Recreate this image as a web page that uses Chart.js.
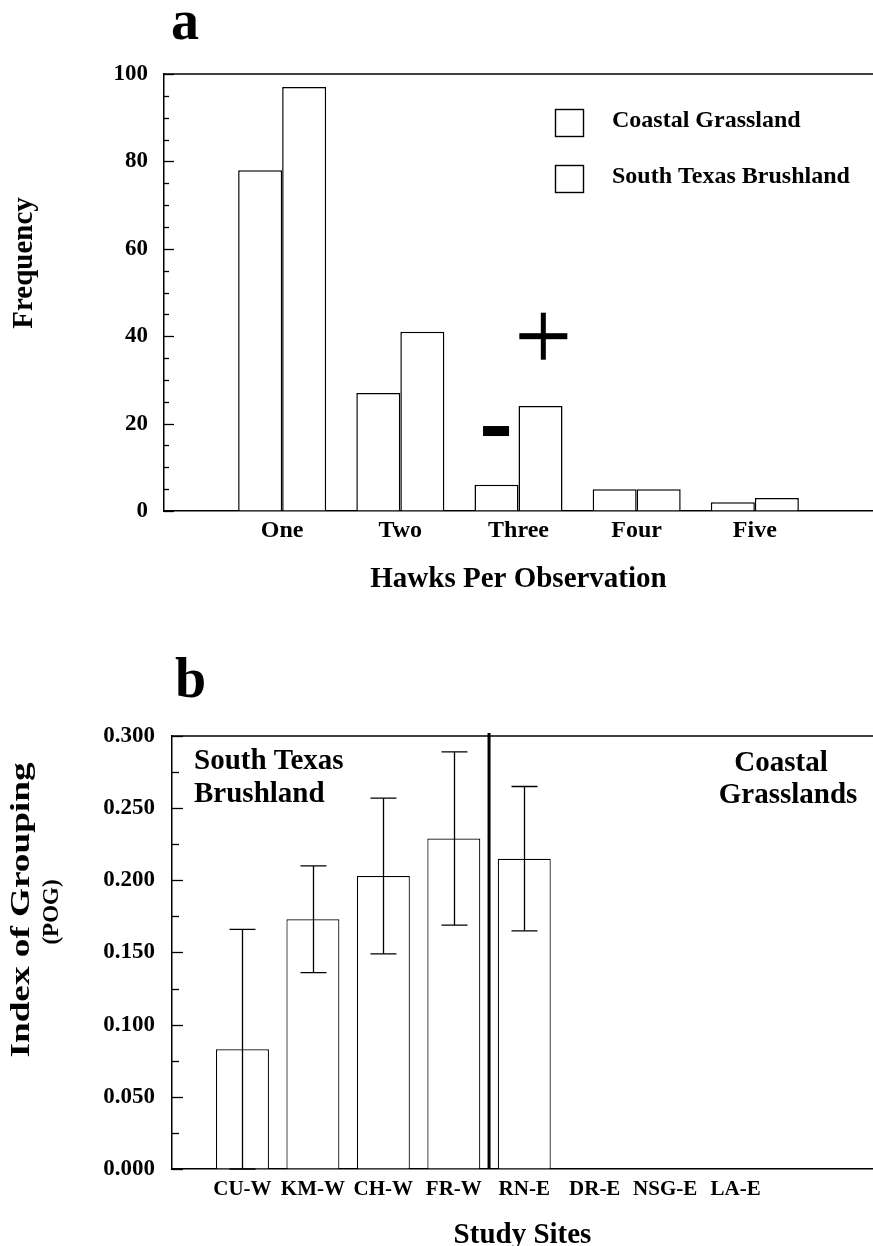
<!DOCTYPE html>
<html><head><meta charset="utf-8">
<script src="https://cdn.jsdelivr.net/npm/chart.js@4.4.0/dist/chart.umd.min.js"></script>
<style>
html,body{margin:0;padding:0;background:#fff;}
#wrap{position:relative;width:873px;height:1246px;overflow:hidden;}
.box{position:absolute;left:0;width:873px;}
</style></head><body>
<div id="wrap">
<div class="box" style="top:0;height:620px"><canvas id="ca"></canvas></div>
<div class="box" style="top:620px;height:626px"><canvas id="cb"></canvas></div>
</div>
<script>
// ---------- Panel a data ----------
const hawkCategories = ['One', 'Two', 'Three', 'Four', 'Five'];
const coastalGrassland = [78, 27, 6, 5, 2];
const southTexasBrushland = [97, 41, 24, 5, 3];
const freqTicks = [0, 20, 40, 60, 80, 100];
const seriesNames = ['Coastal Grassland', 'South Texas Brushland'];
// significance marks (data coordinates)
const contrastMarks = [{sym: '+', x: 3.21, y: 40}, {sym: '-', x: 2.81, y: 18.3}];

// ---------- Panel b data ----------
const studySites = ['CU-W', 'KM-W', 'CH-W', 'FR-W', 'RN-E', 'DR-E', 'NSG-E', 'LA-E'];
const pogValues = [0.083, 0.173, 0.203, 0.229, 0.215, 0, 0, 0];
const pogLow = [0.000, 0.136, 0.149, 0.169, 0.165, null, null, null];
const pogHigh = [0.166, 0.210, 0.257, 0.289, 0.265, null, null, null];
const pogTicks = [0, 0.05, 0.10, 0.15, 0.20, 0.25, 0.30];
const regionDivider = 4.5;
const regionNames = [['South Texas', 'Brushland'], ['Coastal', 'Grasslands']];

const SERIF = "'Liberation Serif','Times New Roman',serif";
Chart.defaults.font.family = SERIF;
Chart.defaults.color = '#000';

function bold(size) { return 'bold ' + size + 'px ' + SERIF; }

function drawMinorTicks(ctx, chart, step, majorEvery, max, majorLen, minorLen) {
  const ys = chart.scales.y, left = chart.chartArea.left;
  ctx.save();
  ctx.strokeStyle = '#000';
  ctx.lineWidth = 1.3;
  const n = Math.round(max / step);
  for (let i = 0; i <= n; i++) {
    const v = i * step;
    const y = Math.round(ys.getPixelForValue(v)) + 0.5;
    const len = (i % majorEvery === 0) ? majorLen : minorLen;
    ctx.beginPath(); ctx.moveTo(left, y); ctx.lineTo(left + len, y); ctx.stroke();
  }
  ctx.restore();
}

function drawTopBorder(ctx, chart) {
  const a = chart.chartArea;
  ctx.save();
  ctx.strokeStyle = '#000'; ctx.lineWidth = 1.5;
  ctx.beginPath(); ctx.moveTo(a.left, a.top); ctx.lineTo(a.right, a.top); ctx.stroke();
  ctx.restore();
}

const panelA = {
  id: 'panelA',
  afterDatasetsDraw(chart) {
    const ctx = chart.ctx, a = chart.chartArea;
    const xs = chart.scales.x, ys = chart.scales.y;
    drawTopBorder(ctx, chart);
    drawMinorTicks(ctx, chart, 5, 4, 100, 10, 5);
    ctx.save();
    ctx.fillStyle = '#000';
    // significance marks
    contrastMarks.forEach(m => {
      const px = xs.getPixelForValue(m.x), py = ys.getPixelForValue(m.y);
      if (m.sym === '+') {
        ctx.fillRect(px - 24, py - 3, 48, 6);
        ctx.fillRect(px - 2.5, py - 23.5, 5, 47);
      } else {
        ctx.fillRect(px - 13, py - 5, 26, 10);
      }
    });
    // legend
    const legendRows = [123, 179];
    chart.data.datasets.forEach((ds, i) => {
      const cy = legendRows[i];
      ctx.fillStyle = '#fff';
      ctx.fillRect(555, cy - 14, 29, 28);
      ctx.strokeStyle = '#000'; ctx.lineWidth = 1.4;
      ctx.strokeRect(555.5, cy - 13.5, 28, 27);
      ctx.fillStyle = '#000';
      ctx.font = bold(24);
      ctx.textAlign = 'left'; ctx.textBaseline = 'alphabetic';
      ctx.fillText(ds.label, 612, cy + 4);
    });
    // panel letter
    ctx.font = bold(56);
    ctx.textAlign = 'left'; ctx.textBaseline = 'alphabetic';
    ctx.fillText('a', a.left + 7, 39);
    // axis titles
    ctx.font = bold(29);
    ctx.textAlign = 'center';
    ctx.fillText('Hawks Per Observation', (a.left + a.right) / 2, 587);
    ctx.save();
    ctx.translate(32, 263);
    ctx.rotate(-Math.PI / 2);
    ctx.fillText('Frequency', 0, 0);
    ctx.restore();
    ctx.restore();
  }
};

const panelB = {
  id: 'panelB',
  afterDatasetsDraw(chart) {
    const ctx = chart.ctx, a = chart.chartArea;
    const xs = chart.scales.x, ys = chart.scales.y;
    drawTopBorder(ctx, chart);
    drawMinorTicks(ctx, chart, 0.025, 2, 0.3, 11, 7);
    ctx.save();
    ctx.strokeStyle = '#000'; ctx.fillStyle = '#000';
    // region divider
    const dx = xs.getPixelForValue(regionDivider);
    ctx.lineWidth = 3;
    ctx.beginPath(); ctx.moveTo(dx, a.top - 3); ctx.lineTo(dx, a.bottom); ctx.stroke();
    // error bars
    ctx.lineWidth = 1.3;
    studySites.forEach((s, i) => {
      if (pogLow[i] === null || pogHigh[i] === null) return;
      const cx = Math.round(xs.getPixelForValue(i + 1)) + 0.5;
      const yl = ys.getPixelForValue(pogLow[i]), yh = ys.getPixelForValue(pogHigh[i]);
      ctx.beginPath();
      ctx.moveTo(cx, yl); ctx.lineTo(cx, yh);
      ctx.moveTo(cx - 13, yh); ctx.lineTo(cx + 13, yh);
      ctx.moveTo(cx - 13, yl); ctx.lineTo(cx + 13, yl);
      ctx.stroke();
    });
    // region names
    ctx.font = bold(29);
    ctx.textBaseline = 'alphabetic';
    ctx.textAlign = 'left';
    ctx.fillText(regionNames[0][0], a.left + 22, 149);
    ctx.fillText(regionNames[0][1], a.left + 22, 182);
    ctx.textAlign = 'center';
    ctx.fillText(regionNames[1][0], 781, 151);
    ctx.fillText(regionNames[1][1], 788, 183);
    // panel letter
    ctx.font = bold(56);
    ctx.textAlign = 'left';
    ctx.fillText('b', a.left + 3, 77);
    // axis titles
    ctx.font = bold(29);
    ctx.textAlign = 'center';
    ctx.fillText('Study Sites', (a.left + a.right) / 2, 1243 - 620);
    // y title, drawn elongated along its length like the original
    ctx.save();
    ctx.translate(29, 290);
    ctx.rotate(-Math.PI / 2);
    ctx.font = bold(28);
    const w = ctx.measureText('Index of Grouping').width;
    ctx.scale(295 / w, 1);
    ctx.fillText('Index of Grouping', 0, 0);
    ctx.restore();
    ctx.save();
    ctx.translate(58, 292);
    ctx.rotate(-Math.PI / 2);
    ctx.font = bold(23);
    ctx.fillText('(POG)', 0, 0);
    ctx.restore();
    ctx.restore();
  }
};

const axisBorder = {display: true, color: '#000', width: 1.5};
const noGrid = {display: true, drawOnChartArea: false, drawTicks: false};

new Chart(document.getElementById('ca'), {
  type: 'bar',
  data: {
    datasets: [
      {label: seriesNames[0], data: hawkCategories.map((c, i) => ({x: i + 1, y: coastalGrassland[i]})),
       backgroundColor: '#fff', borderColor: '#000', borderWidth: 1.5, categoryPercentage: 0.745, barPercentage: 1},
      {label: seriesNames[1], data: hawkCategories.map((c, i) => ({x: i + 1, y: southTexasBrushland[i]})),
       backgroundColor: '#fff', borderColor: '#000', borderWidth: 1.5, categoryPercentage: 0.745, barPercentage: 1}
    ]
  },
  options: {
    responsive: true, maintainAspectRatio: false, animation: false, devicePixelRatio: 1,
    layout: {padding: {top: 74, left: 0, right: 0, bottom: 0}},
    plugins: {legend: {display: false}, tooltip: {enabled: false}, title: {display: false}},
    scales: {
      x: {
        type: 'linear', offset: false, min: 0, max: 6, grid: noGrid, border: axisBorder,
        afterBuildTicks: s => { s.ticks = hawkCategories.map((c, i) => ({value: i + 1})); },
        ticks: {autoSkip: false, maxRotation: 0, padding: 5, color: '#000', font: {size: 24, weight: 'bold'},
                callback: v => hawkCategories[v - 1] ?? ''},
        afterFit: s => { s.height = 109; }
      },
      y: {
        min: 0, max: 100, grid: noGrid, border: axisBorder,
        afterBuildTicks: s => { s.ticks = freqTicks.map(v => ({value: v})); },
        ticks: {padding: 16, color: '#000', font: {size: 23, weight: 'bold'}},
        afterFit: s => { s.width = 164; }
      }
    }
  },
  plugins: [panelA]
});

new Chart(document.getElementById('cb'), {
  type: 'bar',
  data: {
    datasets: [
      {label: 'POG', data: studySites.map((c, i) => ({x: i + 1, y: pogValues[i]})),
       backgroundColor: '#fff', borderColor: '#000', borderWidth: 1.2, categoryPercentage: 0.752, barPercentage: 1}
    ]
  },
  options: {
    responsive: true, maintainAspectRatio: false, animation: false, devicePixelRatio: 1,
    layout: {padding: {top: 116, left: 0, right: 0, bottom: 0}},
    plugins: {legend: {display: false}, tooltip: {enabled: false}, title: {display: false}},
    scales: {
      x: {
        type: 'linear', offset: false, min: 0, max: 9.95, grid: noGrid, border: axisBorder,
        afterBuildTicks: s => { s.ticks = studySites.map((c, i) => ({value: i + 1})); },
        ticks: {autoSkip: false, maxRotation: 0, padding: 8, color: '#000', font: {size: 21, weight: 'bold'},
                callback: v => studySites[v - 1] ?? ''},
        afterFit: s => { s.height = 626 - 549; }
      },
      y: {
        min: 0, max: 0.3, grid: noGrid, border: axisBorder,
        afterBuildTicks: s => { s.ticks = pogTicks.map(v => ({value: v})); },
        ticks: {padding: 17, color: '#000', font: {size: 23, weight: 'bold'}, callback: v => Number(v).toFixed(3)},
        afterFit: s => { s.width = 172; }
      }
    }
  },
  plugins: [panelB]
});
</script>
</body></html>
